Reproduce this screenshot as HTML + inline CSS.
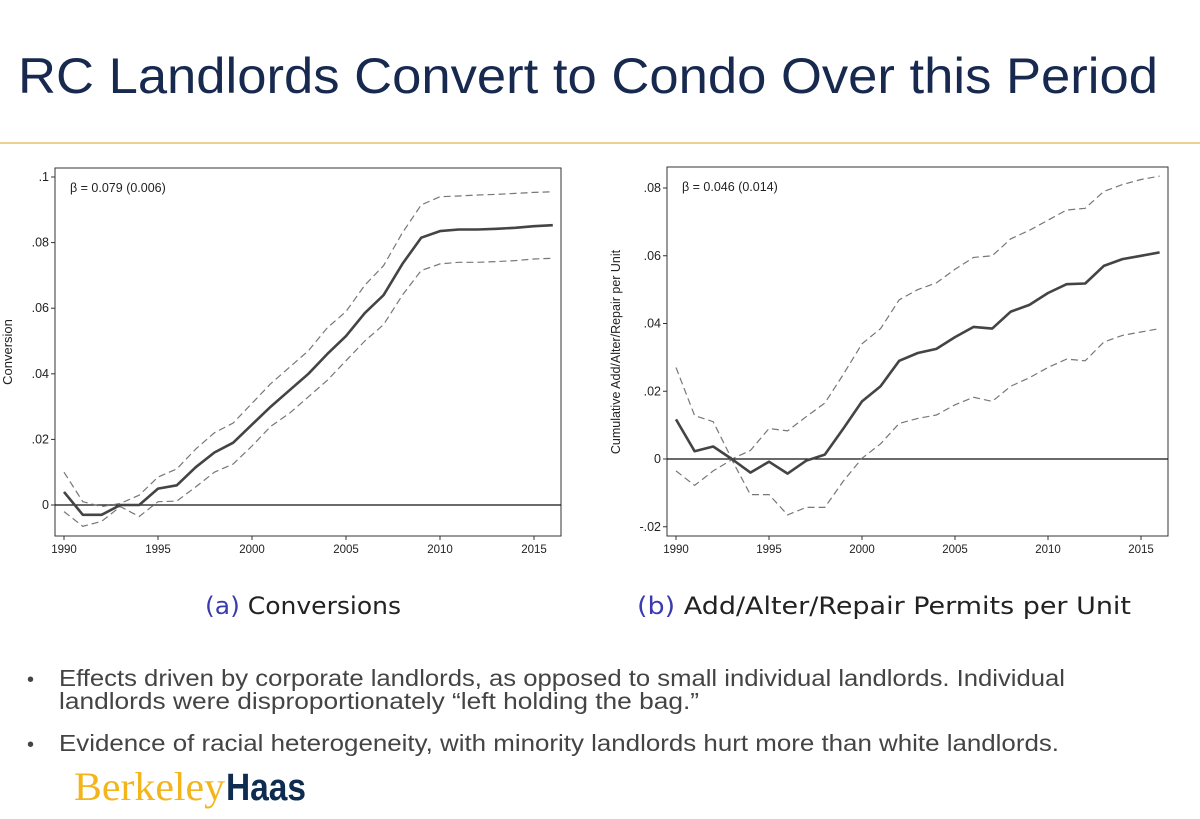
<!DOCTYPE html>
<html><head><meta charset="utf-8"><style>
html,body{margin:0;padding:0;background:#fff;}
svg{display:block;}
</style></head><body>
<svg id="s" width="1200" height="819" viewBox="0 0 1200 819" xmlns="http://www.w3.org/2000/svg">
<text x="18" y="93" font-family="Liberation Sans, sans-serif" font-size="50" fill="#17294f" textLength="1140" lengthAdjust="spacingAndGlyphs">RC Landlords Convert to Condo Over this Period</text>
<rect x="0" y="142" width="1200" height="2" fill="#ecd190"/>
<g id="c1"></g>
<g id="c2"></g>
<text x="205" y="614" font-family="DejaVu Sans, sans-serif" font-size="24" fill="#222" textLength="196" lengthAdjust="spacingAndGlyphs"><tspan fill="#3b3bb0">(a)</tspan> Conversions</text>
<text x="637" y="614" font-family="DejaVu Sans, sans-serif" font-size="24" fill="#222" textLength="494" lengthAdjust="spacingAndGlyphs"><tspan fill="#3b3bb0">(b)</tspan> Add/Alter/Repair Permits per Unit</text>
<g font-family="Liberation Sans, sans-serif" font-size="23" fill="#444">
<text x="27" y="686" font-size="20">•</text>
<text x="59" y="686" textLength="1006" lengthAdjust="spacingAndGlyphs">Effects driven by corporate landlords, as opposed to small individual landlords.  Individual</text>
<text x="59" y="709" textLength="640" lengthAdjust="spacingAndGlyphs">landlords were disproportionately “left holding the bag.”</text>
<text x="27" y="751" font-size="20">•</text>
<text x="59" y="751" textLength="1000" lengthAdjust="spacingAndGlyphs">Evidence of racial heterogeneity, with minority landlords hurt more than white landlords.</text>
</g>
<text x="74" y="800" font-family="Liberation Serif, serif" font-size="40" fill="#f3b51b" textLength="151" lengthAdjust="spacingAndGlyphs">Berkeley</text>
<text x="226" y="800" font-family="Liberation Sans, sans-serif" font-weight="bold" font-size="38" fill="#0e2b50" textLength="80" lengthAdjust="spacingAndGlyphs">Haas</text>
</svg>
<script>
const years=[1990,1991,1992,1993,1994,1995,1996,1997,1998,1999,2000,2001,2002,2003,2004,2005,2006,2007,2008,2009,2010,2011,2012,2013,2014,2015,2016];
const conv=[.004,-.003,-.003,0,0,.005,.006,.0115,.016,.019,.0245,.030,.035,.040,.046,.0515,.0585,.064,.0735,.0815,.0835,.084,.084,.0842,.0845,.085,.0853];
const convHi=[.010,.001,-.0005,.0005,.003,.0085,.011,.017,.022,.025,.031,.037,.042,.047,.054,.059,.067,.073,.083,.0915,.094,.0942,.0945,.0947,.095,.0953,.0955];
const convLo=[-.002,-.0065,-.005,-.0005,-.0035,.001,.0012,.0055,.010,.0125,.018,.024,.028,.033,.038,.044,.050,.055,.064,.0715,.0735,.074,.074,.0742,.0745,.075,.0752];
const perm=[.0117,.0023,.0037,0,-.004,-.0008,-.0043,-.0005,.0013,.009,.017,.0215,.029,.0313,.0325,.036,.039,.0385,.0435,.0455,.049,.0516,.0518,.057,.059,.060,.061];
const permHi=[.027,.0128,.011,0,.0025,.009,.0083,.0125,.0165,.025,.034,.0385,.047,.050,.052,.056,.0595,.060,.065,.0675,.0705,.0735,.074,.079,.081,.0825,.0835];
const permLo=[-.0035,-.0078,-.0035,-.0002,-.0105,-.0105,-.0165,-.0143,-.0143,-.0065,.0002,.0045,.0105,.012,.013,.016,.0182,.017,.0215,.024,.027,.0295,.029,.0345,.0365,.0375,.0385];
const xTicks=[1990,1995,2000,2005,2010,2015];
const yTicks1=[0,.02,.04,.06,.08,.1];
const yLabels1=["0",".02",".04",".06",".08",".1"];
const yTicks2=[-.02,0,.02,.04,.06,.08];
const yLabels2=["-.02","0",".02",".04",".06",".08"];
const NS="http://www.w3.org/2000/svg";
function mk(p,t,a){const e=document.createElementNS(NS,t);for(const k in a)e.setAttribute(k,a[k]);p.appendChild(e);return e;}
function draw(g,cfg){
  const X=v=>cfg.x0+(v-1990)*(cfg.x1-cfg.x0)/25;
  const Y=v=>cfg.y0-(v)*(cfg.y0-cfg.yTop)/cfg.topVal;
  const box=mk(g,'rect',{x:cfg.L,y:cfg.T,width:cfg.R-cfg.L,height:cfg.B-cfg.T,fill:'none',stroke:'#333','stroke-width':1});
  
  const z=mk(g,'line',{x1:cfg.L,x2:cfg.R,y1:Y(0),y2:Y(0),stroke:'#111','stroke-width':1.2});
  
  xTicks.forEach(t=>{
    const l=mk(g,'line',{x1:X(t),x2:X(t),y1:cfg.B,y2:cfg.B+4,stroke:'#333'});
    
    const tx=mk(g,'text',{x:X(t),y:cfg.B+17,'text-anchor':'middle','font-family':'Liberation Sans, sans-serif','font-size':11.5,fill:'#222'});
    tx.textContent=t;
    
  });
  cfg.yt.forEach((t,i)=>{
    const l=mk(g,'line',{x1:cfg.L-4,x2:cfg.L,y1:Y(t),y2:Y(t),stroke:'#333'});
    
    const tx=mk(g,'text',{x:cfg.L-6,y:Y(t)+4,'text-anchor':'end','font-family':'Liberation Sans, sans-serif','font-size':12.5,fill:'#222'});
    tx.textContent=cfg.yl[i];
    
  });
  const path=arr=>arr.map((v,i)=>(i?'L':'M')+X(years[i]).toFixed(1)+','+Y(v).toFixed(1)).join('');
  const hi=mk(g,'path',{d:path(cfg.hi),fill:'none',stroke:'#777','stroke-width':1.2,'stroke-dasharray':'7,4'});
  
  const lo=mk(g,'path',{d:path(cfg.lo),fill:'none',stroke:'#777','stroke-width':1.2,'stroke-dasharray':'7,4'});
  
  const m=mk(g,'path',{d:path(cfg.mid),fill:'none',stroke:'#444','stroke-width':2.6,'stroke-linejoin':'round'});
  
  const b=mk(g,'text',{x:cfg.L+15,y:cfg.T+24,'font-family':'Liberation Sans, sans-serif','font-size':12.5,fill:'#222'});
  b.textContent=cfg.beta;
  
  const yt=mk(g,'text',{x:0,y:0,'text-anchor':'middle','font-family':'Liberation Sans, sans-serif','font-size':cfg.ytSize,fill:'#222',transform:`translate(${cfg.ytx},${cfg.yty}) rotate(-90)`});
  yt.textContent=cfg.ytitle;
  
}
draw(document.getElementById('c1'),{L:55,R:561,T:168,B:536,x0:64,x1:534,y0:505,yTop:177,topVal:.1,yt:yTicks1,yl:yLabels1,mid:conv,hi:convHi,lo:convLo,beta:'β = 0.079 (0.006)',ytitle:'Conversion',ytx:12,yty:352,ytSize:13});
draw(document.getElementById('c2'),{L:667,R:1168,T:167,B:536,x0:676,x1:1141,y0:459,yTop:188,topVal:.08,yt:yTicks2,yl:yLabels2,mid:perm,hi:permHi,lo:permLo,beta:'β = 0.046 (0.014)',ytitle:'Cumulative Add/Alter/Repair per Unit',ytx:620,yty:352,ytSize:12.5});
</script>
</body></html>
